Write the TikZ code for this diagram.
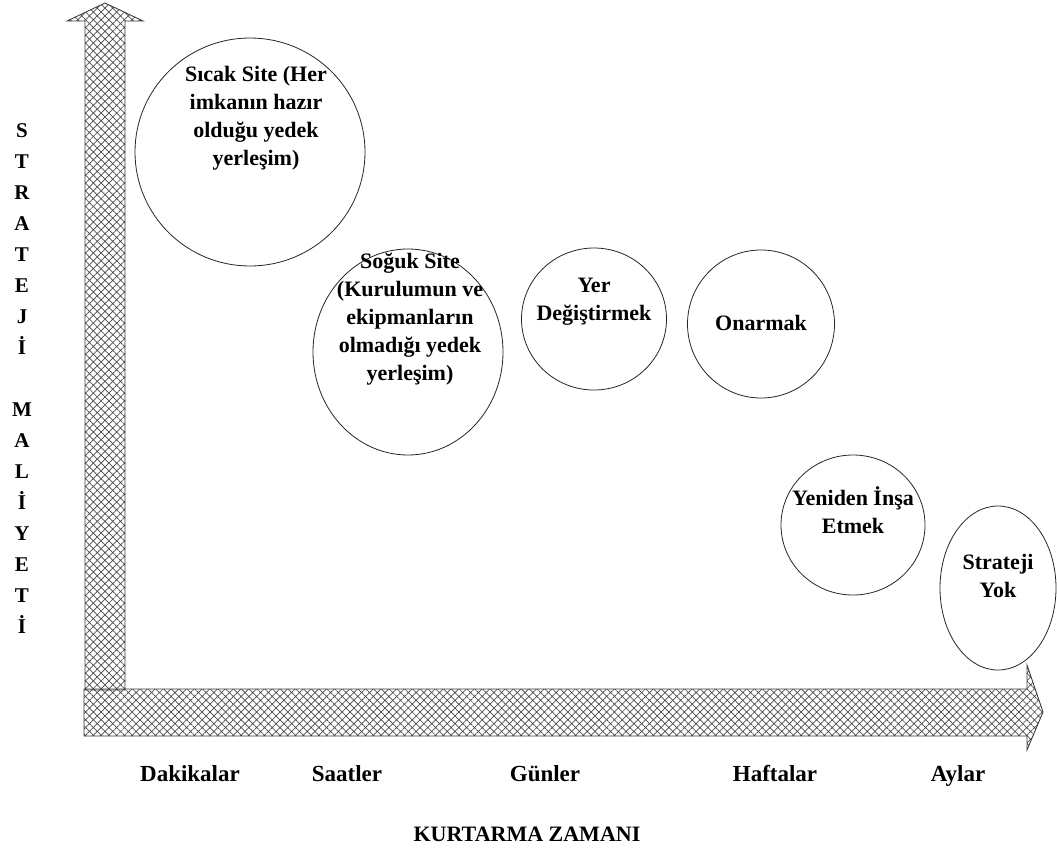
\documentclass[tikz,border=0pt]{standalone}
\usepackage{fontspec}
\setmainfont{Liberation Serif}
\usetikzlibrary{shapes.geometric,patterns.meta}

\tikzset{
  axisarrow/.style={draw=black!75, line width=0.9pt, line join=miter,
    pattern={Hatch[angle=45,distance=5.5pt,line width=0.7pt]}, pattern color=black!70},
  bubble/.style={ellipse, draw=black!85, line width=0.8pt, inner sep=0pt},
  bubbletext/.style={align=center, font=\fontsize{22}{28}\selectfont\bfseries, inner sep=0pt},
  ticklabel/.style={font=\fontsize{23}{26}\selectfont\bfseries, inner sep=0pt, anchor=base},
  sidelabel/.style={font=\fontsize{21}{31}\selectfont\bfseries, align=center, inner sep=0pt},
}

\begin{document}
\begin{tikzpicture}[x=1pt,y=-1pt]
  \useasboundingbox (0,0) rectangle (1057,852);
  \fill[white] (0,0) rectangle (1057,852);

  % vertical axis arrow (cost)
  \draw[axisarrow] (85,690) -- (85,21) -- (67,21) -- (105,3) -- (143,21)
    -- (125,21) -- (125,690) -- cycle;
  % horizontal axis arrow (recovery time)
  \draw[axisarrow] (84,689) -- (1027,689) -- (1027,665) -- (1043,712)
    -- (1027,750) -- (1027,736) -- (84,736) -- cycle;

  % strategy bubbles
  \node[bubble, minimum width=230, minimum height=228] (sicak) at (250,152) {};
  \node[bubbletext] (sicakt) at (256,118)
    {Sıcak Site (Her\\imkanın hazır\\olduğu yedek\\yerleşim)};

  \node[bubble, minimum width=190, minimum height=206] (soguk) at (408,352) {};
  \node[bubbletext] (sogukt) at (410,319)
    {Soğuk Site\\(Kurulumun ve\\ekipmanların\\olmadığı yedek\\yerleşim)};

  \node[bubble, minimum width=145, minimum height=142] (yer) at (594,319) {};
  \node[bubbletext] (yert) at (594,302) {Yer\\Değiştirmek};

  \node[bubble, minimum width=147, minimum height=148] (onar) at (761,324) {};
  \node[bubbletext] (onart) at (761,323) {Onarmak};

  \node[bubble, minimum width=144, minimum height=140] (yeni) at (853,525) {};
  \node[bubbletext] (yenit) at (853,510) {Yeniden İnşa\\Etmek};

  \node[bubble, minimum width=116, minimum height=164] (yok) at (998,588) {};
  \node[bubbletext] (yokt) at (998,576) {Strateji\\Yok};

  % time scale labels
  \node[ticklabel] (dak) at (190,781) {Dakikalar};
  \node[ticklabel] (saat) at (347,781) {Saatler};
  \node[ticklabel] (gun) at (545,781) {Günler};
  \node[ticklabel] (hafta) at (775,781) {Haftalar};
  \node[ticklabel] (ay) at (958,781) {Aylar};
  \node[ticklabel, font=\fontsize{22}{26}\selectfont\bfseries] (xaxis) at (527,841) {KURTARMA ZAMANI};

  % vertical axis title, one letter per line
  \node[sidelabel, anchor=north] (yaxis) at (22,123)
    {S\\T\\R\\A\\T\\E\\J\\İ\\[31pt]M\\A\\L\\İ\\Y\\E\\T\\İ};
\end{tikzpicture}
\end{document}
